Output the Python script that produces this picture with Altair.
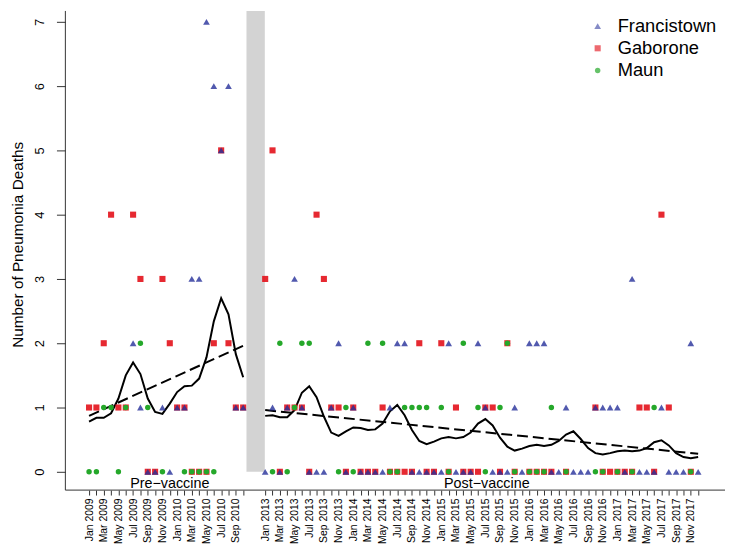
import altair as alt
import pandas as pd

# ---------------- data ----------------
month_names = ["Jan", "Feb", "Mar", "Apr", "May", "Jun",
               "Jul", "Aug", "Sep", "Oct", "Nov", "Dec"]
pre_years = [2009, 2010]
post_years = [2013, 2014, 2015, 2016, 2017]
pre_count = 22          # Jan 2009 .. Oct 2010
post_start = 24         # position index of Jan 2013 (gap after Oct 2010)

# Monthly pneumonia deaths, pre-vaccine period (Jan 2009 - Oct 2010); None = not visible
pre_francistown = [None, None, None, None, None, None, 2, 1, 0, 0, 1, 0, 1, 1, 3, 3, 7, 6, 5, 6, 1, 1]
pre_gaborone    = [1, 1, 2, 4, 1, 1, 4, 3, 0, 0, 3, 2, 1, 1, 0, 0, 0, 2, 5, 2, 1, 1]
pre_maun        = [0, 0, 1, 1, 0, 1, None, 2, 1, None, 0, None, None, 0, 0, 0, 0, 0, None, None, None, None]

# Post-vaccine period (Jan 2013 - Dec 2017)
post_francistown = [0, 1, 0, 1, 3, 1, 0, 0, 0, 1, 2, 0, 1, 0, 0, 0, 0, 1, 2, 2,
                    0, 0, 0, 0, 0, 2, 0, 0, 0, 2, 1, 0, 0, 0, 1, 0, 2, 2, 2, 0,
                    0, 1, 0, 0, 0, 1, 1, 1, 1, 0, 3, 0, 0, 0, 1, 0, 0, 0, 2, 0]
post_gaborone = [3, 5, 0, 1, 1, 1, 0, 4, 3, 1, 1, 0, 1, 0, 0, 0, 1, 0, 0, 0,
                 0, 2, 0, 0, 2, 0, 1, 0, 0, 0, 1, 1, 0, 2, 0, None, 0, 0, 0, 0,
                 None, 0, None, None, None, 1, 0, 0, 0, 0, 0, 1, 1, 0, 4, 1, None, None, 0, None]
post_maun = [None, 0, 2, 0, 1, 2, 2, None, None, None, 0, 1, 0, None, 2, None, 2, 0, 0, 1,
             1, 1, 1, None, 1, 0, None, 2, None, 1, 0, None, 1, 2, 0, None, 0, 0, 0, 1,
             None, 0, None, None, None, 0, 0, None, 0, None, 0, None, None, 1, None, None, None, None, 0, None]

# Smoothed series (solid black line)
pre_smooth = [0.78, 0.84, 0.84, 0.91, 1.14, 1.50, 1.70, 1.52, 1.14, 0.93, 0.90,
              1.06, 1.24, 1.33, 1.34, 1.45, 1.78, 2.34, 2.70, 2.45, 1.83, 1.47]
post_smooth = [0.87, 0.88, 0.85, 0.85, 0.96, 1.23, 1.33, 1.16, 0.86, 0.61, 0.56, 0.63,
               0.69, 0.68, 0.65, 0.66, 0.75, 0.94, 1.04, 0.88, 0.65, 0.48, 0.43, 0.47,
               0.52, 0.54, 0.52, 0.54, 0.61, 0.75, 0.82, 0.72, 0.53, 0.39, 0.33, 0.36,
               0.40, 0.42, 0.40, 0.42, 0.48, 0.58, 0.63, 0.51, 0.37, 0.29, 0.27, 0.29,
               0.32, 0.33, 0.32, 0.33, 0.37, 0.46, 0.49, 0.41, 0.29, 0.23, 0.21, 0.23]

# Linear trends (dashed lines): start / end values of each period
pre_trend = [0.87, 1.96]
post_trend = [0.96, 0.28]

sites = ["Francistown", "Gaborone", "Maun"]
site_colors = ["#25309a", "#e3121b", "#25a82a"]
site_shapes = ["triangle-up", "square", "circle"]
site_opacity = [0.8, 1.0, 0.85]
site_sizes = [46, 30, 32]
site_z = [2, 0, 1]

period_names = ["Pre\u2212vaccine", "Post\u2212vaccine"]
period_label_x = [11.0, 54.2]
gap_band = [21.45, 23.95]

# ---------------- build tables ----------------
pre_labels = [f"{m} {y}" for y in pre_years for m in month_names][:pre_count]
post_labels = [f"{m} {y}" for y in post_years for m in month_names]
pre_pos = list(range(pre_count))
post_pos = list(range(post_start, post_start + len(post_labels)))

rows = []
series = {
    "Francistown": (pre_francistown, post_francistown),
    "Gaborone": (pre_gaborone, post_gaborone),
    "Maun": (pre_maun, post_maun),
}
for s, (pre_v, post_v) in series.items():
    z = site_z[sites.index(s)]
    for p, v in zip(pre_pos + post_pos, pre_v + post_v):
        if v is not None:
            rows.append({"pos": p, "value": v, "site": s, "z": z})
points_df = pd.DataFrame(rows)

smooth_df = pd.DataFrame({
    "pos": pre_pos + post_pos,
    "value": pre_smooth + post_smooth,
    "period": ["pre"] * len(pre_pos) + ["post"] * len(post_pos),
})
trend_df = pd.DataFrame({
    "pos": [pre_pos[0], pre_pos[-1], post_pos[0], post_pos[-1]],
    "value": pre_trend + post_trend,
    "period": ["pre", "pre", "post", "post"],
})
band_df = pd.DataFrame({"pos": [gap_band[0]], "pos2": [gap_band[1]], "value": [0], "value2": [7.169]})
text_df = pd.DataFrame({"pos": period_label_x, "value": [-0.25, -0.25], "label": period_names})

# tick labels: every second month labelled
label_arr = [""] * (post_pos[-1] + 1)
for p, l in zip(pre_pos + post_pos, pre_labels + post_labels):
    if l.split()[0] in ("Jan", "Mar", "May", "Jul", "Sep", "Nov"):
        label_arr[p] = l
label_expr = "[" + ",".join("'" + s + "'" for s in label_arr) + "][datum.value]"

W, H = 665, 484.5
XMIN, XMAX = -3.23, 86.39
YMIN, YMAX = -0.285, 7.169
FONT = "Liberation Sans"

xscale = alt.Scale(domain=[XMIN, XMAX], nice=False, zero=False)
yscale = alt.Scale(domain=[YMIN, YMAX], nice=False, zero=False)

xaxis = alt.Axis(values=pre_pos + post_pos, labelExpr=label_expr, labelAngle=-90,
                 labelAlign="right", labelBaseline="middle",
                 labelFontSize=10.5, labelFont=FONT, labelColor="black",
                 tickSize=5, tickColor="#333", domain=False, grid=False,
                 labelPadding=3, title=None, labelOverlap=False, labelFlush=False,
                 labelBound=False)
yaxis = alt.Axis(values=list(range(8)), format="d", labelAngle=-90, labelAlign="center",
                 labelBaseline="bottom", labelFontSize=13, labelFont=FONT,
                 labelColor="black", tickSize=9, tickColor="#333", domain=False,
                 grid=False, labelPadding=10, title="Number of Pneumonia Deaths",
                 titleFont=FONT, titleFontSize=15.5, titleFontWeight="normal",
                 titleColor="black", titleAngle=-90, titleX=-43, titleY=236,
                 titleAlign="center", titleBaseline="alphabetic", labelOverlap=False)

X = lambda: alt.X("pos:Q", scale=xscale, axis=xaxis)
Y = lambda: alt.Y("value:Q", scale=yscale, axis=yaxis)

band = alt.Chart(band_df).mark_rect(color="#d3d3d3").encode(
    x=X(), x2="pos2:Q", y=Y(), y2="value2:Q")

smooth = alt.Chart(smooth_df).mark_line(color="black", strokeWidth=2).encode(
    x=X(), y=Y(), detail="period:N")

trend = alt.Chart(trend_df).mark_line(color="black", strokeWidth=2, strokeDash=[11, 5]).encode(
    x=X(), y=Y(), detail="period:N")

pts = alt.Chart(points_df).mark_point(filled=True, strokeWidth=0).encode(
    x=X(), y=Y(),
    color=alt.Color("site:N", scale=alt.Scale(domain=sites, range=site_colors),
                    legend=alt.Legend(orient="none", legendX=529, legendY=6, title=None,
                                      labelFontSize=18.5, labelFont=FONT, labelColor="black",
                                      symbolSize=95, symbolOpacity=1, symbolStrokeWidth=0,
                                      rowPadding=3.5, labelOffset=11, padding=0)),
    shape=alt.Shape("site:N", scale=alt.Scale(domain=sites, range=site_shapes)),
    opacity=alt.Opacity("site:N", scale=alt.Scale(domain=sites, range=site_opacity), legend=None),
    size=alt.Size("site:N", scale=alt.Scale(domain=sites, range=site_sizes), legend=None),
    order=alt.Order("z:Q"),
)

txt = alt.Chart(text_df).mark_text(fontSize=14.5, font=FONT, color="black",
                                   align="center", baseline="alphabetic").encode(
    x=X(), y=Y(), text="label:N")

frame_left = alt.Chart(band_df).mark_rule(color="#333", strokeWidth=1).encode(
    x=alt.value(0), y=alt.value(0), y2=alt.value(H))
frame_bottom = alt.Chart(band_df).mark_rule(color="#333", strokeWidth=1).encode(
    x=alt.value(0), x2=alt.value(W + 2), y=alt.value(H))

chart = alt.layer(band, trend, smooth, pts, txt, frame_left, frame_bottom).properties(
    width=W, height=H,
    autosize=alt.AutoSizeParams(type="none"),
    padding={"left": 58, "top": 0, "right": 2, "bottom": 51},
    background="white",
).configure_view(stroke=None)

chart.save("out.html", embed_options={"renderer": "svg", "actions": False})
